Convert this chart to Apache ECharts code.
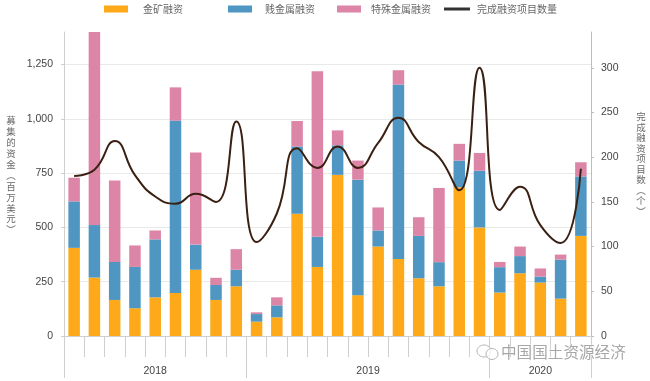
<!DOCTYPE html>
<html><head><meta charset="utf-8">
<style>html,body{margin:0;padding:0;background:#fff}#c{width:650px;height:381px}</style>
<script src="https://cdn.jsdelivr.net/npm/echarts@6/dist/echarts.min.js"></script>
</head><body><div id="c"></div>
<script>
const months = ['1','2','3','4','5','6','7','8','9','10','11','12','13','14','15','16','17','18','19','20','21','22','23','24','25','26'];
const gold = [406,269,166,128,178,198,305,166,229,66,86,563,318,742,188,412,355,266,229,685,500,200,289,246,172,461];
const base = [214,242,175,190,267,794,116,69,76,35,55,310,139,136,532,74,803,195,111,123,261,117,79,28,180,274];
const special = [109,889,375,99,41,153,424,33,95,8,37,117,762,69,88,106,66,86,342,77,82,24,44,37,23,65];
const deals = [179,186,218,180,156,148,159,150,240,105,137,210,188,212,188,216,244,217,200,163,300,141,167,124,104,187];
const leftTicks = [0,250,500,750,1000,1250];
const rightTicks = [0,50,100,150,200,250,300];
const yearLabels = {4.5:'2018',15:'2019',23.5:'2020'};
const yearBreaks = [0,9,21,26];
const seriesNames = ['金矿融资','贱金属融资','特殊金属融资','完成融资项目数量'];
const colors = ['#FDA91A','#4F96C2','#DD85A6','#3A2012'];
const leftTitle = '募集的资金︵百万美元︶';
const rightTitle = '完成融资项目数︵个︶';

const FONT = '"Liberation Sans", Arial, sans-serif';
const CJK = '"Noto Sans CJK SC", sans-serif';
const chart = echarts.init(document.getElementById('c'), null, {renderer:'canvas'});

const legendAt = (i, left, pad) => ({
  show:true, left, top:2, orient:'horizontal', padding:[2,0,0,0],
  itemWidth:i===3?26:24, itemHeight:i===3?3:7,
  data:[{name:seriesNames[i], icon:'rect', itemStyle:i===3?{color:'#333'}:undefined}],
  textStyle:{fontFamily:CJK, fontSize:10, color:'#666', padding:[0,0,0,pad]}, selectedMode:false
});
const bar = (i, data) => ({
  name:seriesNames[i], type:'bar', stack:'total', barWidth:11.5, data,
  itemStyle:{color:colors[i]}, xAxisIndex:0, yAxisIndex:0, z:2
});
const vText = (s, x, y, step) => s.split('').map((ch,k) => ({type:'text', x, y:y+k*step, z:10,
  style:{text:ch, font:'9.5px '+CJK, fill:'#6a6a6a', align:'center', verticalAlign:'top'}}));

chart.setOption({
  animation:false, backgroundColor:'#fff',
  legend:[legendAt(0,104,10), legendAt(1,228,8), legendAt(2,337,5), legendAt(3,444,2)],
  grid:{left:64, right:59, top:32, bottom:45, outerBoundsMode:'none'},
  xAxis:[
    {type:'category', data:months, position:'bottom',
     axisLine:{show:true, lineStyle:{color:'#cfcfcf', width:1}},
     axisTick:{show:true, interval:0, alignWithLabel:false, length:21, lineStyle:{color:'#cfcfcf', width:1}},
     axisLabel:{show:false}, splitLine:{show:false}},
    {type:'value', min:0, max:26, position:'bottom',
     axisLine:{show:false}, splitLine:{show:false},
     axisTick:{show:true, customValues:yearBreaks, length:42, lineStyle:{color:'#cfcfcf', width:1}},
     axisLabel:{show:true, customValues:Object.keys(yearLabels).map(Number), margin:30, hideOverlap:false,
       formatter:v=>yearLabels[v]||'', fontFamily:FONT, fontSize:10.5, color:'#444'}}
  ],
  yAxis:[
    {type:'value', min:0, max:1400, position:'left',
     axisLine:{show:true, lineStyle:{color:'#cfcfcf', width:1}},
     axisTick:{show:true, customValues:leftTicks, length:3, inside:false, lineStyle:{color:'#cfcfcf'}},
     axisLabel:{customValues:leftTicks, margin:11, fontFamily:FONT, fontSize:10.5, color:'#444',
       formatter:v=>v.toLocaleString('en-US')},
     splitLine:{show:true, lineStyle:{color:'#e9e9e9', width:1}}},
    {type:'value', min:0, max:340, position:'right',
     axisLine:{show:true, lineStyle:{color:'#bdbdbd', width:1}},
     axisTick:{show:true, customValues:rightTicks, length:3, lineStyle:{color:'#bdbdbd'}},
     axisLabel:{customValues:rightTicks, margin:10, fontFamily:FONT, fontSize:10.5, color:'#444'},
     splitLine:{show:false}}
  ],
  series:[
    bar(0,gold), bar(1,base), bar(2,special),
    {name:seriesNames[3], type:'line', smooth:0.5, data:deals, yAxisIndex:1, xAxisIndex:0,
     showSymbol:false, symbol:'none', z:5, lineStyle:{color:colors[3], width:2}, itemStyle:{color:colors[3]}}
  ],
  graphic:[
    ...vText(leftTitle, 11, 116, 10.9),
    ...vText(rightTitle, 641, 112, 10.5),
    {type:'ellipse', shape:{cx:484,cy:351,rx:7,ry:6}, style:{fill:'rgba(255,255,255,0.75)', stroke:'#b5b5b5', lineWidth:1}, z:20},
    {type:'ellipse', shape:{cx:492,cy:354,rx:6,ry:5.5}, style:{fill:'rgba(255,255,255,0.75)', stroke:'#b5b5b5', lineWidth:1}, z:20},
    {type:'text', x:501, y:344, z:20, style:{text:'中国国土资源经济', font:'15.6px '+CJK, fill:'#a8a8a8', stroke:'rgba(255,255,255,0.8)', lineWidth:1}}
  ]
});
</script></body></html>
